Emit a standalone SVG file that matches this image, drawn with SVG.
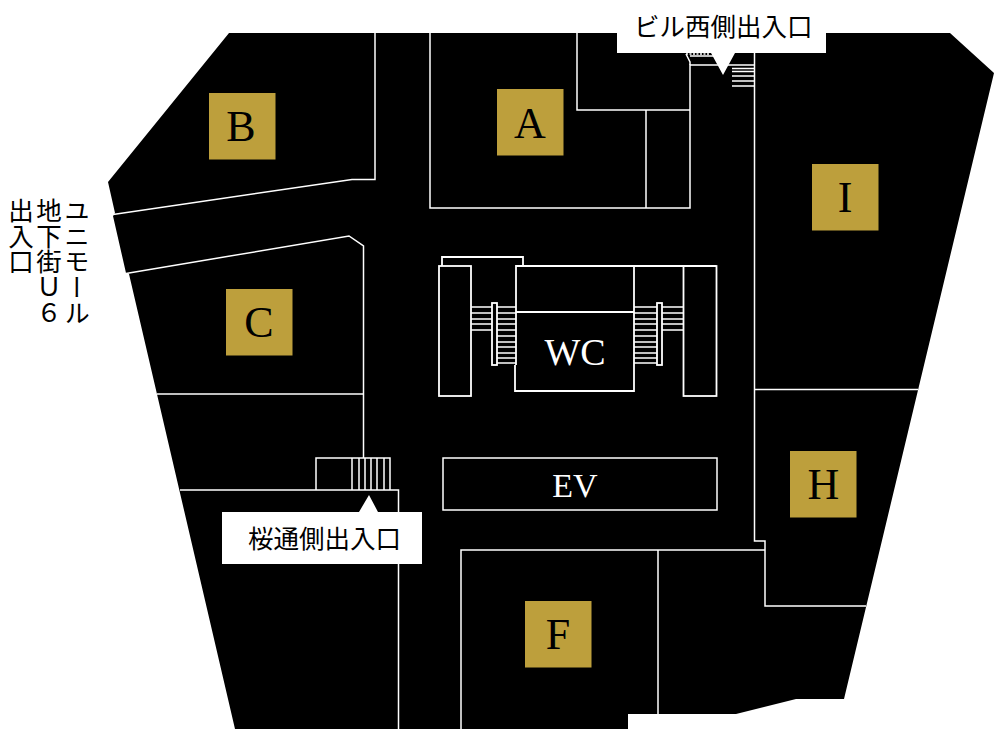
<svg xmlns="http://www.w3.org/2000/svg" width="1000" height="735" viewBox="0 0 1000 735">
<style>
.w{fill:none;stroke:#fff;stroke-width:1.5}
.t{fill:none;stroke:#fff;stroke-width:1.8}
.g{fill:#bd9f3c}
.l{font-family:"Liberation Serif",serif;font-size:44px;fill:#000;text-anchor:middle}
.r{font-family:"Liberation Serif",serif;font-size:38px;fill:#fff;text-anchor:middle}
.j{font-family:"Noto Sans CJK JP",sans-serif;font-size:25.500px;font-weight:400;fill:#000}
.v{writing-mode:vertical-rl;text-orientation:upright}
</style>
<rect width="1000" height="735" fill="#fff"/>
<polygon id="floor" points="229,33 950,33 994,73 844,699 796,699 736,714 628,714 628,729 235,729 129,274 126,273 113,216 115,213 108,182" fill="#000"/>
<g id="connectors" class="w">
<path d="M375,33V179.500H352L113,214.500"/>
<path d="M126,273.500L349,236L363.500,246V458"/>
<path d="M157,394H364"/>
<path d="M430,33V208H690V65H754"/>
<path d="M577,33V110H690M646,110V208"/>
<path d="M754.500,53V541H765V606H866M754.500,389.500H918"/>
<path d="M461,729V550H765M658,550V714"/>
<path d="M180,490H398.500V729"/>
<path d="M316,490V458H390V490M352,458V490M359,458V490M365,458V490M371,458V490M377,458V490M384,458V490"/>
<path d="M686,54L690,62V65M690,56H722M732,68.500H754M732,71.500H754M732,76H754M732,81H754M732,86H754"/>
<path d="M686,54H710" stroke-dasharray="2 1.500"/>
</g>
<g id="stairs" class="t">
<path d="M442,266V257H523V266"/>
<rect x="439" y="266" width="32" height="130"/>
<rect x="683.500" y="266" width="33" height="130"/>
<path d="M516,365V266H716M516,312H634M634,266V391H515V365"/>
<rect x="492" y="303" width="5" height="62"/>
<rect x="657" y="303" width="5" height="62"/>
<path d="M471,307H492M471,313H492M471,319H492M471,324H492M471,330H492" stroke-width="1.500"/>
<path d="M497,307H516M497,313H516M497,319H516M497,324H516M497,330H516M497,336H516M497,342H516M497,347H516M497,353H516M497,358H516M497,363H516" stroke-width="1.500"/>
<path d="M634,307H657M634,313H657M634,319H657M634,324H657M634,330H657M634,336H657M634,342H657M634,347H657M634,353H657M634,358H657M634,363H657" stroke-width="1.500"/>
<path d="M662,307H683M662,313H683M662,319H683M662,324H683M662,330H683" stroke-width="1.500"/>
</g>
<g id="node-A"><rect class="g" x="497" y="89" width="66.500" height="66.500"/><text class="l" x="530" y="138">A</text></g>
<g id="node-B"><rect class="g" x="209" y="93" width="66.500" height="66.500"/><text class="l" x="241" y="141">B</text></g>
<g id="node-C"><rect class="g" x="226" y="289" width="66.500" height="66.500"/><text class="l" x="259" y="337">C</text></g>
<g id="node-F"><rect class="g" x="525" y="601" width="66.500" height="66.500"/><text class="l" x="558" y="649">F</text></g>
<g id="node-H"><rect class="g" x="790" y="451" width="66.500" height="66.500"/><text class="l" x="823.500" y="499">H</text></g>
<g id="node-I"><rect class="g" x="812" y="164" width="66.500" height="66.500"/><text class="l" x="845" y="212">I</text></g>
<g id="node-WC"><text class="r" x="575" y="365">WC</text></g>
<g id="node-EV"><rect x="443" y="458" width="274" height="52" class="w"/><text class="r" x="575" y="497" style="font-size:34px">EV</text></g>
<g id="label-west">
<path d="M617,0H826V53H735L723,75L711,53H617Z" fill="#fff"/>
<text class="j" x="634" y="36">ビル西側出入口</text>
</g>
<g id="label-sakura">
<path d="M222,512H359L369,495L378,512H422V564H222Z" fill="#fff"/>
<text class="j" x="248" y="548">桜通側出入口</text>
</g>
<g id="label-uni">
<text class="j v" x="77" y="198">ユニモール</text>
<text class="j v" x="49" y="198">地下街Ｕ６</text>
<text class="j v" x="21" y="198">出入口</text>
</g>
</svg>
